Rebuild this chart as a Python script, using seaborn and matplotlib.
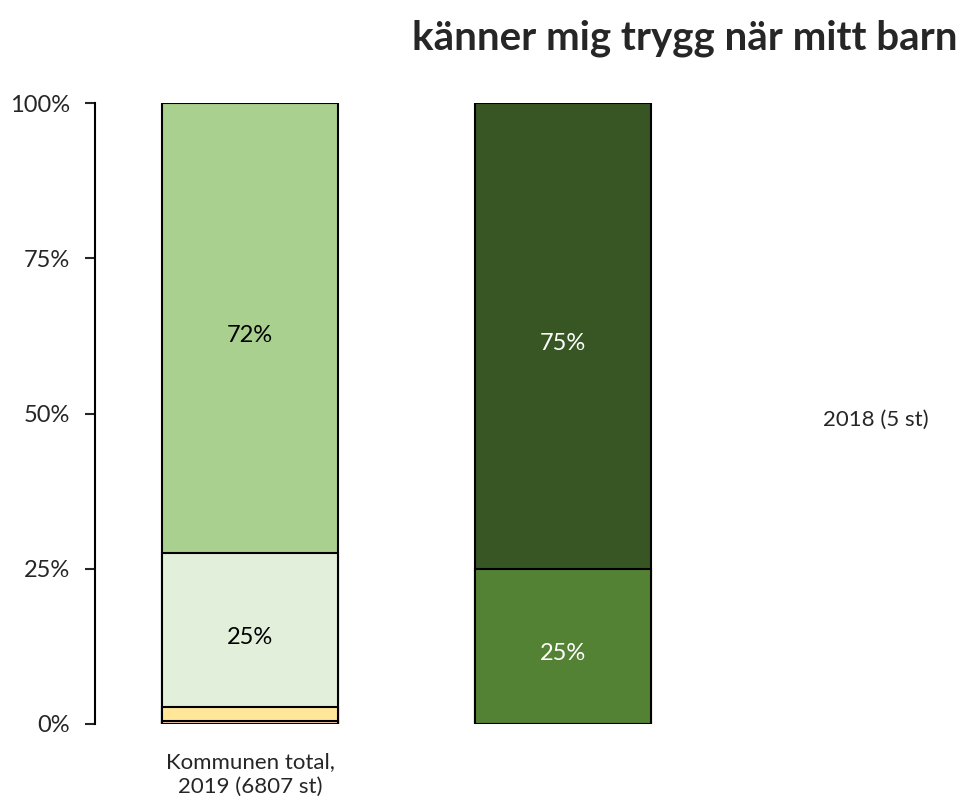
import numpy as np
import pandas as pd
import seaborn as sns
import matplotlib
import matplotlib.pyplot as plt

sns.set_style('white')
matplotlib.rcParams['font.family'] = ['Lato', 'DejaVu Sans']

categories = ["Kommunen total,\n2019 (6807 st)", "2019", "2018 (5 st)"]
# layers bottom to top, shares per bar
layer_vals = [
    [0.005, 0.0, 0.0],
    [0.023, 0.0, 0.0],
    [0.248, 0.25, 0.0],
    [0.724, 0.75, 0.0],
]
layer_colors = [
    ["#F8CBAD", "#F8CBAD", "#F8CBAD"],
    ["#FFE699", "#FFE699", "#FFE699"],
    ["#E2EFDA", "#548235", "#548235"],
    ["#A9D08E", "#375623", "#375623"],
]
label_colors = ["black", "white", "white"]

fig = plt.figure(figsize=(9.64, 8.07), dpi=100)
ax = fig.add_axes([95 / 964, 83 / 807, 869 / 964, 621 / 807])

vals = np.array(layer_vals)
cum = vals.cumsum(axis=0)

# draw cumulative bars from the top layer down so smaller ones overlay
for i in range(len(layer_vals) - 1, -1, -1):
    df = pd.DataFrame({'cat': categories, 'val': cum[i]})
    sns.barplot(data=df, x='cat', y='val', hue='cat', order=categories,
                palette=layer_colors[i], legend=False, width=0.56,
                saturation=1, edgecolor='black', linewidth=1.5, ax=ax,
                dodge=False)

# hide empty bars
for p in ax.patches:
    if p.get_height() <= 0:
        p.set_visible(False)

# percentage labels for larger segments
for j in range(len(categories)):
    for i in range(len(layer_vals)):
        v = vals[i, j]
        if v >= 0.1:
            mid = cum[i, j] - v / 2 - 0.012
            ax.text(j, mid, f"{v * 100:.0f}%", ha='center', va='center',
                    fontsize=17, color=label_colors[j])

ax.set_xlim(-0.495, 2.281)
ax.set_ylim(0, 1)
ax.set_yticks([0, 0.25, 0.5, 0.75, 1.0])
ax.set_yticklabels(["0%", "25%", "50%", "75%", "100%"], fontsize=17)
ax.set_xticks([0])
ax.set_xticklabels([categories[0]], fontsize=16, linespacing=1.3)
ax.tick_params(axis='y', length=7.2, width=1.5, pad=11, left=True)
ax.tick_params(axis='x', length=0, pad=20)
ax.set_xlabel('')
ax.set_ylabel('')
for s in ['top', 'right', 'bottom']:
    ax.spines[s].set_visible(False)
ax.spines['left'].set_linewidth(1.5)
ax.spines['left'].set_color('black')

ax.text(2, 0.49, categories[2], ha='center', va='center', fontsize=16)

fig.text(958 / 964, 1 - 38 / 807, "känner mig trygg när mitt barn", ha='right',
         va='center', fontsize=29, fontweight='bold')

fig.savefig('out.png', dpi=100)
